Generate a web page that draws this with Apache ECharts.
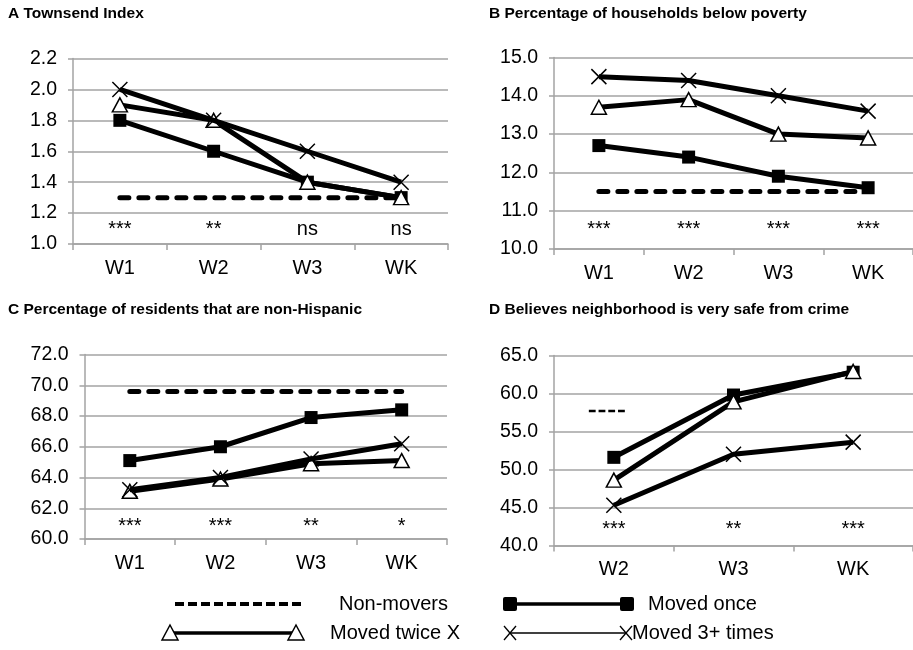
<!DOCTYPE html>
<html>
<head>
<meta charset="utf-8">
<script src="https://cdn.jsdelivr.net/npm/echarts@6/dist/echarts.min.js"></script>
<style>html,body{margin:0;padding:0;background:#fff}#c{width:913px;height:650px}</style>
</head>
<body>
<div id="c"></div>
<script>
// ---------- data ----------
const waves = ['W1', 'W2', 'W3', 'WK'];
const wavesD = ['W2', 'W3', 'WK'];

const titleA = 'A Townsend Index';
const nonA = [1.3, 1.3, 1.3, 1.3];
const onceA = [1.8, 1.6, 1.4, 1.3];
const twiceA = [1.9, 1.8, 1.4, 1.3];
const threeA = [2.0, 1.8, 1.6, 1.4];
const sigA = ['***', '**', 'ns', 'ns'];

const titleB = 'B Percentage of households below poverty';
const nonB = [11.5, 11.5, 11.5, 11.5];
const onceB = [12.7, 12.4, 11.9, 11.6];
const twiceB = [13.7, 13.9, 13.0, 12.9];
const threeB = [14.5, 14.4, 14.0, 13.6];
const sigB = ['***', '***', '***', '***'];

const titleC = 'C Percentage of residents that are non-Hispanic';
const nonC = [69.6, 69.6, 69.6, 69.6];
const onceC = [65.1, 66.0, 67.9, 68.4];
const twiceC = [63.1, 63.9, 64.9, 65.1];
const threeC = [63.2, 64.0, 65.2, 66.2];
const sigC = ['***', '***', '**', '*'];

const titleD = 'D Believes neighborhood is very safe from crime';
const nonD = [57.7, '-', '-'];
const onceD = [51.6, 59.8, 62.8];
const twiceD = [48.6, 58.9, 62.9];
const threeD = [45.3, 52.0, 53.6];
const sigD = ['***', '**', '***'];

const legendNames = ['Non-movers', 'Moved once', 'Moved twice X', 'Moved 3+ times'];

// ---------- styling ----------
const FONT = '"Liberation Sans", Arial, Helvetica, sans-serif';
const GRID_COLOR = '#a3a3a3';
const X_PATH = 'path://M0,0L10,10M10,0L0,10';

const panels = [
  {title: titleA, cats: waves, non: nonA, once: onceA, twice: twiceA, three: threeA, sig: sigA,
   min: 1.0, max: 2.2, interval: 0.2, grid: {left: 73, top: 58.5, width: 375, height: 185.5},
   titlePos: [8, 15], sigOff: 15, nonDash: false},
  {title: titleB, cats: waves, non: nonB, once: onceB, twice: twiceB, three: threeB, sig: sigB,
   min: 10, max: 15, interval: 1, grid: {left: 554, top: 57.5, width: 363, height: 191.5},
   titlePos: [489, 15], sigOff: 19.5, nonDash: false},
  {title: titleC, cats: waves, non: nonC, once: onceC, twice: twiceC, three: threeC, sig: sigC,
   min: 60, max: 72, interval: 2, grid: {left: 84.5, top: 354.5, width: 362.5, height: 184.5},
   titlePos: [8, 311], sigOff: 12.5, nonDash: false},
  {title: titleD, cats: wavesD, non: nonD, once: onceD, twice: twiceD, three: threeD, sig: sigD,
   min: 40, max: 65, interval: 5, grid: {left: 554, top: 355.5, width: 363, height: 190},
   titlePos: [489, 311], sigOff: 16, nonDash: true}
];

const grids = [], xAxes = [], yAxes = [], series = [], titles = [];

panels.forEach((p, i) => {
  grids.push(Object.assign({containLabel: false}, p.grid));
  titles.push({text: p.title, left: p.titlePos[0], top: p.titlePos[1] - 9, padding: 0,
    textStyle: {fontFamily: FONT, fontSize: 15.5, fontWeight: 'bold', color: '#000'}});
  xAxes.push({
    type: 'category', gridIndex: i, data: p.cats, boundaryGap: true,
    axisLine: {show: true, lineStyle: {color: GRID_COLOR, width: 1.5}},
    axisTick: {show: true, length: 6, alignWithLabel: false, lineStyle: {color: GRID_COLOR, width: 1.5}},
    axisLabel: {fontFamily: FONT, fontSize: 20, color: '#000', margin: 14},
    splitLine: {show: false}
  });
  yAxes.push({
    type: 'value', gridIndex: i, min: p.min, max: p.max, interval: p.interval,
    axisLine: {show: true, lineStyle: {color: GRID_COLOR, width: 1.5}},
    axisTick: {show: true, length: 5, lineStyle: {color: GRID_COLOR, width: 1.5}},
    axisLabel: {fontFamily: FONT, fontSize: 19.5, color: '#000', margin: 16,
      formatter: v => v.toFixed(1)},
    splitLine: {show: true, lineStyle: {color: GRID_COLOR, width: 1.5}}
  });
  // non-movers
  if (!p.nonDash) {
    series.push({
      name: legendNames[0], type: 'line', xAxisIndex: i, yAxisIndex: i, data: p.non,
      symbol: 'none', silent: true, z: 2,
      lineStyle: {color: '#000', width: 5, type: [9, 10], cap: 'round'}
    });
  } else {
    series.push({
      name: legendNames[0], type: 'line', xAxisIndex: i, yAxisIndex: i, data: p.non,
      symbol: 'path://M0,0h7v2h-7zM10,0h7v2h-7zM20,0h7v2h-7zM30,0h7v2h-7z', symbolSize: [36, 2.5],
      symbolKeepAspect: false, symbolOffset: [-7, 0], showSymbol: true, silent: true, z: 2,
      itemStyle: {color: '#000'}, lineStyle: {width: 0}
    });
  }
  series.push({
    name: legendNames[1], type: 'line', xAxisIndex: i, yAxisIndex: i, data: p.once,
    symbol: 'rect', symbolSize: 13, silent: true, z: 3,
    itemStyle: {color: '#000'}, lineStyle: {color: '#000', width: 5}
  });
  series.push({
    name: legendNames[2], type: 'line', xAxisIndex: i, yAxisIndex: i, data: p.twice,
    symbol: 'triangle', symbolSize: [15, 14], silent: true, z: 4,
    itemStyle: {color: '#fff', borderColor: '#000', borderWidth: 1.5}, lineStyle: {color: '#000', width: 5}
  });
  series.push({
    name: legendNames[3], type: 'line', xAxisIndex: i, yAxisIndex: i, data: p.three,
    symbol: X_PATH, symbolSize: 15, silent: true, z: 5,
    itemStyle: {color: 'rgba(0,0,0,0)', borderColor: '#000', borderWidth: 1.5}, lineStyle: {color: '#000', width: 5}
  });
  // significance labels
  series.push({
    type: 'scatter', xAxisIndex: i, yAxisIndex: i, silent: true, z: 6,
    symbolSize: 0, itemStyle: {color: '#000', opacity: 1},
    data: p.sig.map((s, k) => ({value: [k, p.min], label: {formatter: s}})),
    label: {show: true, position: 'top', distance: p.sigOff, fontFamily: FONT, opacity: 1,
      fontSize: 20, color: '#000', verticalAlign: 'middle', textBorderWidth: 0}
  });
});

// ---------- legend (drawn with graphic) ----------
const L1 = 604, L2 = 633;
const triPts = (cx, cy) => [[cx, cy - 8], [cx + 8, cy + 7], [cx - 8, cy + 7]];
const xMark = (cx, cy) => ({type: 'group', children: [
  {type: 'line', shape: {x1: cx - 6, y1: cy - 7, x2: cx + 6, y2: cy + 7}, style: {stroke: '#000', lineWidth: 1.3}},
  {type: 'line', shape: {x1: cx + 6, y1: cy - 7, x2: cx - 6, y2: cy + 7}, style: {stroke: '#000', lineWidth: 1.3}}
]});
const txt = (x, y, t) => ({type: 'text', x: x, y: y, style: {text: t, font: '20px ' + FONT, fill: '#000', verticalAlign: 'middle', align: 'left'}});
const graphic = [
  {type: 'line', shape: {x1: 175, y1: L1, x2: 301, y2: L1}, style: {stroke: '#000', lineWidth: 4, lineDash: [9, 4]}},
  txt(339, L1, legendNames[0]),
  {type: 'line', shape: {x1: 510, y1: L1, x2: 626, y2: L1}, style: {stroke: '#000', lineWidth: 3.5}},
  {type: 'rect', shape: {x: 503, y: L1 - 7, width: 14, height: 14, r: 2}, style: {fill: '#000'}},
  {type: 'rect', shape: {x: 620, y: L1 - 7, width: 14, height: 14, r: 2}, style: {fill: '#000'}},
  txt(648, L1, legendNames[1]),
  {type: 'line', shape: {x1: 170, y1: L2, x2: 296, y2: L2}, style: {stroke: '#000', lineWidth: 3.5}},
  {type: 'polygon', shape: {points: triPts(170, L2)}, style: {fill: '#fff', stroke: '#000', lineWidth: 1.5}},
  {type: 'polygon', shape: {points: triPts(296, L2)}, style: {fill: '#fff', stroke: '#000', lineWidth: 1.5}},
  txt(330, L2, legendNames[2]),
  {type: 'line', shape: {x1: 510, y1: L2, x2: 626, y2: L2}, style: {stroke: '#000', lineWidth: 1.3}},
  xMark(510, L2), xMark(626, L2),
  txt(632, L2, legendNames[3])
];

const chart = echarts.init(document.getElementById('c'), null, {renderer: 'canvas'});
chart.setOption({
  animation: false,
  backgroundColor: '#fff',
  title: titles,
  grid: grids,
  xAxis: xAxes,
  yAxis: yAxes,
  series: series,
  graphic: graphic
});
</script>
</body>
</html>
